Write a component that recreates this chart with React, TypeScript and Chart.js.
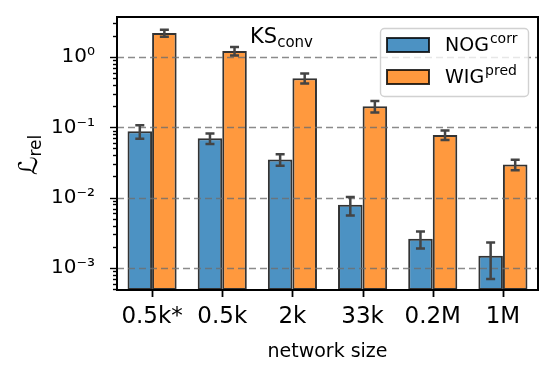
import React, { useEffect, useRef } from 'react';
import { Chart, registerables } from 'chart.js';
Chart.register(...registerables);

const categories = ['0.5k*', '0.5k', '2k', '33k', '0.2M', '1M'];
const nogValues = [0.088, 0.070, 0.035, 0.0079, 0.0026, 0.0015];
const nogErrors = [0.019, 0.012, 0.0065, 0.0023, 0.0007, 0.0008];
const wigValues = [2.19, 1.22, 0.50, 0.20, 0.078, 0.0295];
const wigErrors = [0.25, 0.17, 0.08, 0.037, 0.012, 0.005];
const yTicks = [1e-3, 1e-2, 1e-1, 1];
const yTickLabels = ['10⁻³', '10⁻²', '10⁻¹', '10⁰'];
const yMin = 4.87e-4;
const yMax = 3.7;

const FONT = '"DejaVu Sans", sans-serif';
const BLUE = 'rgba(31,119,180,0.8)';
const ORANGE = 'rgba(255,127,14,0.8)';
const EDGE = 'rgba(0,0,0,0.8)';
const ERR = '#444444';

const decorations = {
  id: 'decorations',
  afterDatasetsDraw(chart: any) {
    const { ctx, chartArea: a } = chart;
    const yS = chart.scales.y;
    ctx.save();
    ctx.beginPath();
    ctx.rect(a.left, a.top, a.right - a.left, a.bottom - a.top);
    ctx.clip();
    ctx.strokeStyle = 'rgba(110,110,110,0.8)';
    ctx.lineWidth = 1.6;
    ctx.setLineDash([7, 4]);
    yTicks.forEach((v) => {
      const y = Math.round(yS.getPixelForValue(v)) + 0.5;
      ctx.beginPath();
      ctx.moveTo(a.left, y);
      ctx.lineTo(a.right, y);
      ctx.stroke();
    });
    ctx.setLineDash([]);
    const sets = [
      [nogValues, nogErrors],
      [wigValues, wigErrors],
    ];
    ctx.strokeStyle = ERR;
    ctx.lineWidth = 2.5;
    sets.forEach(([vals, errs], di) => {
      const meta = chart.getDatasetMeta(di);
      meta.data.forEach((bar: any, i: number) => {
        const x = bar.x;
        const y1 = yS.getPixelForValue(vals[i] + errs[i]);
        const y2 = yS.getPixelForValue(Math.max(vals[i] - errs[i], 1e-9));
        ctx.beginPath();
        ctx.moveTo(x, y1);
        ctx.lineTo(x, y2);
        ctx.moveTo(x - 4.5, y1);
        ctx.lineTo(x + 4.5, y1);
        ctx.moveTo(x - 4.5, y2);
        ctx.lineTo(x + 4.5, y2);
        ctx.stroke();
      });
    });
    ctx.restore();
  },
  afterDraw(chart: any) {
    const { ctx, chartArea: a } = chart;
    const yS = chart.scales.y;
    const xS = chart.scales.x;
    ctx.save();
    ctx.strokeStyle = '#000';
    ctx.lineWidth = 2;
    ctx.strokeRect(a.left, a.top, a.right - a.left, a.bottom - a.top);
    ctx.lineWidth = 1.4;
    for (let e = -4; e <= 1; e++) {
      for (let m = 1; m <= 9; m++) {
        const v = m * Math.pow(10, e);
        if (v < yMin || v > yMax) continue;
        const y = Math.round(yS.getPixelForValue(v)) + 0.5;
        const len = m === 1 ? 7 : 4;
        ctx.beginPath();
        ctx.moveTo(a.left, y);
        ctx.lineTo(a.left - len, y);
        ctx.stroke();
      }
    }
    ctx.lineWidth = 1.8;
    categories.forEach((_, i) => {
      const x = Math.round(xS.getPixelForValue(i)) + 0.5;
      ctx.beginPath();
      ctx.moveTo(x, a.bottom);
      ctx.lineTo(x, a.bottom + 7);
      ctx.stroke();
    });
    // title KS_conv
    ctx.fillStyle = '#000';
    ctx.textBaseline = 'alphabetic';
    ctx.textAlign = 'left';
    ctx.font = `21px ${FONT}`;
    const tx = a.left + (a.right - a.left) * 0.316;
    const ty = a.top + 26;
    ctx.fillText('KS', tx, ty);
    const wKS = ctx.measureText('KS').width;
    ctx.font = `15px ${FONT}`;
    ctx.fillText('conv', tx + wKS, ty + 4);
    // legend
    const lx = 380, ly = 28, lw = 148, lh = 68;
    ctx.beginPath();
    ctx.roundRect(lx + 0.5, ly + 0.5, lw, lh, 4);
    ctx.fillStyle = 'rgba(255,255,255,0.8)';
    ctx.fill();
    ctx.strokeStyle = 'rgba(204,204,204,0.9)';
    ctx.lineWidth = 1.4;
    ctx.stroke();
    const items = [
      { c: BLUE, main: 'NOG', sup: 'corr', y: 38 },
      { c: ORANGE, main: 'WIG', sup: 'pred', y: 70 },
    ];
    items.forEach((it) => {
      ctx.fillStyle = it.c;
      ctx.fillRect(387, it.y, 42, 14);
      ctx.strokeStyle = EDGE;
      ctx.lineWidth = 2;
      ctx.strokeRect(387, it.y, 42, 14);
      ctx.fillStyle = '#000';
      ctx.font = `19px ${FONT}`;
      ctx.fillText(it.main, 445, it.y + 13);
      const w = ctx.measureText(it.main).width;
      ctx.font = `14px ${FONT}`;
      ctx.fillText(it.sup, 445 + w + 1, it.y + 5);
    });
    // y title
    ctx.save();
    ctx.translate(37, 155);
    ctx.rotate(-Math.PI / 2);
    ctx.font = `26px ${FONT}`;
    const wL = ctx.measureText('ℒ').width;
    ctx.font = `17px ${FONT}`;
    const wR = ctx.measureText('rel').width;
    const start = -(wL + wR) / 2;
    ctx.fillStyle = '#000';
    ctx.font = `26px ${FONT}`;
    ctx.fillText('ℒ', start, 0);
    ctx.font = `17px ${FONT}`;
    ctx.fillText('rel', start + wL, 4);
    ctx.restore();
    ctx.restore();
  },
};

export default function App() {
  const ref = useRef<HTMLCanvasElement>(null);
  useEffect(() => {
    document.body.style.margin = '0';
    const chart = new Chart(ref.current as HTMLCanvasElement, {
      type: 'bar',
      data: {
        labels: categories,
        datasets: [
          {
            label: 'NOG',
            data: nogValues,
            backgroundColor: BLUE,
            borderColor: EDGE,
            borderWidth: 2,
            borderSkipped: false,
            barPercentage: 1,
            categoryPercentage: 0.7,
          },
          {
            label: 'WIG',
            data: wigValues,
            backgroundColor: ORANGE,
            borderColor: EDGE,
            borderWidth: 2,
            borderSkipped: false,
            barPercentage: 1,
            categoryPercentage: 0.7,
          },
        ],
      },
      options: {
        animation: false,
        responsive: false,
        devicePixelRatio: 1,
        layout: { padding: { top: 17, right: 18, left: 0, bottom: 0 } },
        plugins: { legend: { display: false }, tooltip: { enabled: false } },
        scales: {
          x: {
            type: 'category',
            grid: { display: false, drawTicks: false },
            border: { display: false },
            ticks: { color: '#000', font: { family: FONT, size: 23 }, padding: 13, maxRotation: 0, autoSkip: false },
            title: { display: true, text: 'network size', color: '#000', font: { family: FONT, size: 19 }, padding: { top: 0, bottom: 17 } },
            afterFit: (s: any) => { s.height = 90; s.paddingLeft = 0; s.paddingRight = 0; s.paddingTop = 0; s.paddingBottom = 0; },
          },
          y: {
            type: 'logarithmic',
            min: yMin,
            max: yMax,
            grid: { display: false, drawTicks: false },
            border: { display: false },
            afterBuildTicks: (s: any) => { s.ticks = yTicks.map((v) => ({ value: v })); },
            ticks: {
              color: '#000',
              font: { family: FONT, size: 20 },
              padding: 22,
              callback: (v: any) => {
                const i = yTicks.findIndex((t) => Math.abs(Math.log10(t) - Math.log10(v)) < 1e-6);
                return i >= 0 ? yTickLabels[i] : '';
              },
            },
            afterFit: (s: any) => { s.width = 117; s.paddingTop = 0; s.paddingBottom = 0; s.paddingLeft = 0; s.paddingRight = 0; },
          },
        },
      },
      plugins: [decorations],
    });
    return () => chart.destroy();
  }, []);
  return <canvas ref={ref} width={556} height={380} style={{ display: 'block' }} />;
}
